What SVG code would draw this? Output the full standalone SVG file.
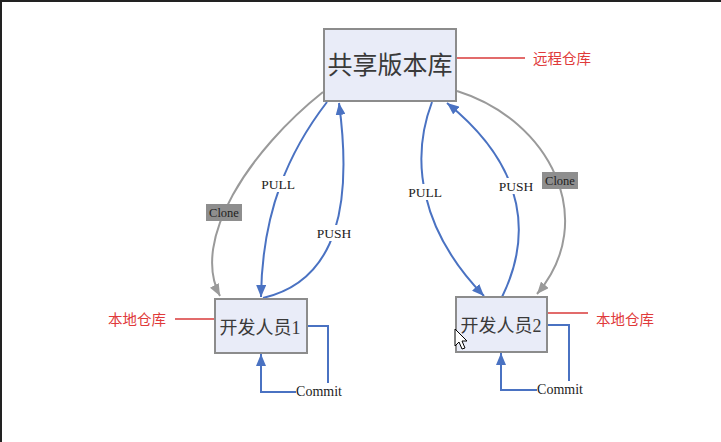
<svg xmlns="http://www.w3.org/2000/svg" width="721" height="442" viewBox="0 0 721 442">
<style>
.box{fill:#e9ecf8;stroke:#8c8c8c;stroke-width:2}
.blue{fill:none;stroke:#4a72c2;stroke-width:2}
.gray{fill:none;stroke:#9a9a9a;stroke-width:2}
.red{fill:none;stroke:#d83a3a;stroke-width:1.3}
.cjk{font-family:"Liberation Serif","Noto Sans CJK SC",serif;fill:#3a3a3a}
.lbl{font-family:"Liberation Serif",serif;font-size:13.5px;fill:#222}
.rtxt{font-family:"Noto Sans CJK SC",sans-serif;font-size:14.5px;fill:#e03a3a}
.bg{fill:#fff}
.cl{fill:#8e8e8e}
</style>
<defs>
<marker id="ab" markerUnits="userSpaceOnUse" markerWidth="12" markerHeight="10" refX="12" refY="5" orient="auto"><path d="M0,0 L12,5 L0,10 z" fill="#4a72c2"/></marker>
<marker id="ag" markerUnits="userSpaceOnUse" markerWidth="12" markerHeight="10" refX="12" refY="5" orient="auto"><path d="M0,0 L12,5 L0,10 z" fill="#9a9a9a"/></marker>
</defs>
<rect width="721" height="442" fill="#fff"/>
<path d="M0,1 H721 M1,0 V442" stroke="#222" stroke-width="2"/>

<g id="connectors">
<path class="gray" d="M323,92 C250,150 190,240 220,296" marker-end="url(#ag)"/>
<path class="blue" d="M327,102 C290,150 262,210 261,297" marker-end="url(#ab)"/>
<path class="blue" d="M263,298 C340,280 352,200 339,103" marker-end="url(#ab)"/>
<path class="blue" d="M432,102 C410,160 420,230 484,296" marker-end="url(#ab)"/>
<path class="blue" d="M502,297 C530,240 530,170 447,103" marker-end="url(#ab)"/>
<path class="gray" d="M457,91 C550,120 600,220 537,294" marker-end="url(#ag)"/>
<path class="blue" d="M307,326 H328 V383"/>
<path class="blue" d="M296,392 H261 V354" marker-end="url(#ab)"/>
<path class="blue" d="M547,325 H569 V381"/>
<path class="blue" d="M537,390 H501 V353" marker-end="url(#ab)"/>
<path class="red" d="M456,58 H525"/>
<path class="red" d="M175,319 H218"/>
<path class="red" d="M547,313 H588"/>
<rect class="bg" x="259" y="176" width="38" height="16"/>
<text class="lbl" x="278" y="189" text-anchor="middle">PULL</text>
<rect class="bg" x="314" y="225" width="40" height="16"/>
<text class="lbl" x="334" y="238" text-anchor="middle">PUSH</text>
<rect class="bg" x="406" y="184" width="38" height="16"/>
<text class="lbl" x="425" y="197" text-anchor="middle">PULL</text>
<rect class="bg" x="496" y="178" width="40" height="16"/>
<text class="lbl" x="516" y="191" text-anchor="middle">PUSH</text>
<rect class="cl" x="206" y="204" width="36" height="17"/>
<text class="lbl" x="224" y="217" text-anchor="middle" style="font-size:12.5px">Clone</text>
<rect class="cl" x="542" y="172" width="36" height="17"/>
<text class="lbl" x="560" y="185" text-anchor="middle" style="font-size:12.5px">Clone</text>
<text class="lbl" x="319" y="396" text-anchor="middle" style="font-size:14px">Commit</text>
<text class="lbl" x="560" y="394" text-anchor="middle" style="font-size:14px">Commit</text>
</g>

<g id="repo">
<rect class="box" x="324" y="29" width="132" height="72"/>
<text class="cjk" x="390" y="74" text-anchor="middle" style="font-size:25px">共享版本库</text>
</g>
<g id="dev1">
<rect class="box" x="215" y="299" width="92" height="54"/>
<text class="cjk" x="260" y="334" text-anchor="middle" style="font-size:18px">开发人员1</text>
</g>
<g id="dev2">
<rect class="box" x="456" y="297" width="91" height="55"/>
<text class="cjk" x="501" y="332" text-anchor="middle" style="font-size:18px">开发人员2</text>
</g>
<g id="notes">
<text class="rtxt" x="533" y="64">远程仓库</text>
<text class="rtxt" x="108" y="325">本地仓库</text>
<text class="rtxt" x="596" y="325">本地仓库</text>
</g>
<path d="M455,329 L455,346 L459,342 L462,349 L465,348 L462,341 L467,341 Z" fill="#fff" stroke="#000" stroke-width="1"/>
</svg>
